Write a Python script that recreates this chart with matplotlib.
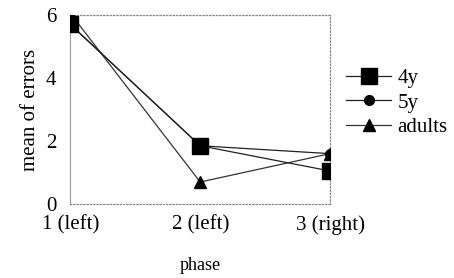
import matplotlib
matplotlib.use("Agg")
import matplotlib.pyplot as plt

# data
phases = ["1 (left)", "2 (left)", "3 (right)"]
errors_4y = [5.7, 1.85, 1.05]
errors_5y = [5.7, 1.85, 1.6]
errors_adults = [6.05, 0.7, 1.6]

plt.rcParams['font.family'] = ['Liberation Serif', 'DejaVu Serif']

fig = plt.figure(figsize=(4.54, 2.78), dpi=100)
ax = fig.add_axes([0.155, 0.266, 0.572, 0.68])

x = range(len(phases))
ax.plot(x, errors_adults, color='#333333', lw=0.9, marker='^', ms=8,
        mfc='black', mec='black', label='adults', zorder=3)
ax.plot(x, errors_5y, color='#222222', lw=0.9, marker='o', ms=7,
        mfc='black', mec='black', label='5y', zorder=4)
ax.plot(x, errors_4y, color='#222222', lw=0.9, marker='s', ms=11,
        mfc='black', mec='black', label='4y', zorder=5)

ax.set_xlim(0, 2)
ax.set_ylim(0, 6)
ax.set_yticks([0, 2, 4, 6])
ax.set_xticks(list(x))
ax.set_xticklabels(phases, fontsize=15)
ax.tick_params(axis='y', labelsize=15, length=0, pad=10)
ax.tick_params(axis='x', length=0, pad=8)
ax.set_ylabel('mean of errors', fontsize=15, labelpad=4)
ax.set_xlabel('phase', fontsize=13, labelpad=16)

for side in ['top', 'right', 'bottom']:
    ax.spines[side].set_linestyle(':')
    ax.spines[side].set_color('#888888')
    ax.spines[side].set_linewidth(0.9)
ax.spines['left'].set_color('#999999')
ax.spines['left'].set_linewidth(0.8)

handles, labels = ax.get_legend_handles_labels()
order = [2, 1, 0]
ax.legend([handles[i] for i in order], [labels[i] for i in order],
          loc='center left', bbox_to_anchor=(1.06, 0.535), frameon=False,
          fontsize=15, handlelength=2.2, handletextpad=0.3,
          labelspacing=0.25, borderaxespad=0, borderpad=0)

fig.savefig('out.png', dpi=100)
